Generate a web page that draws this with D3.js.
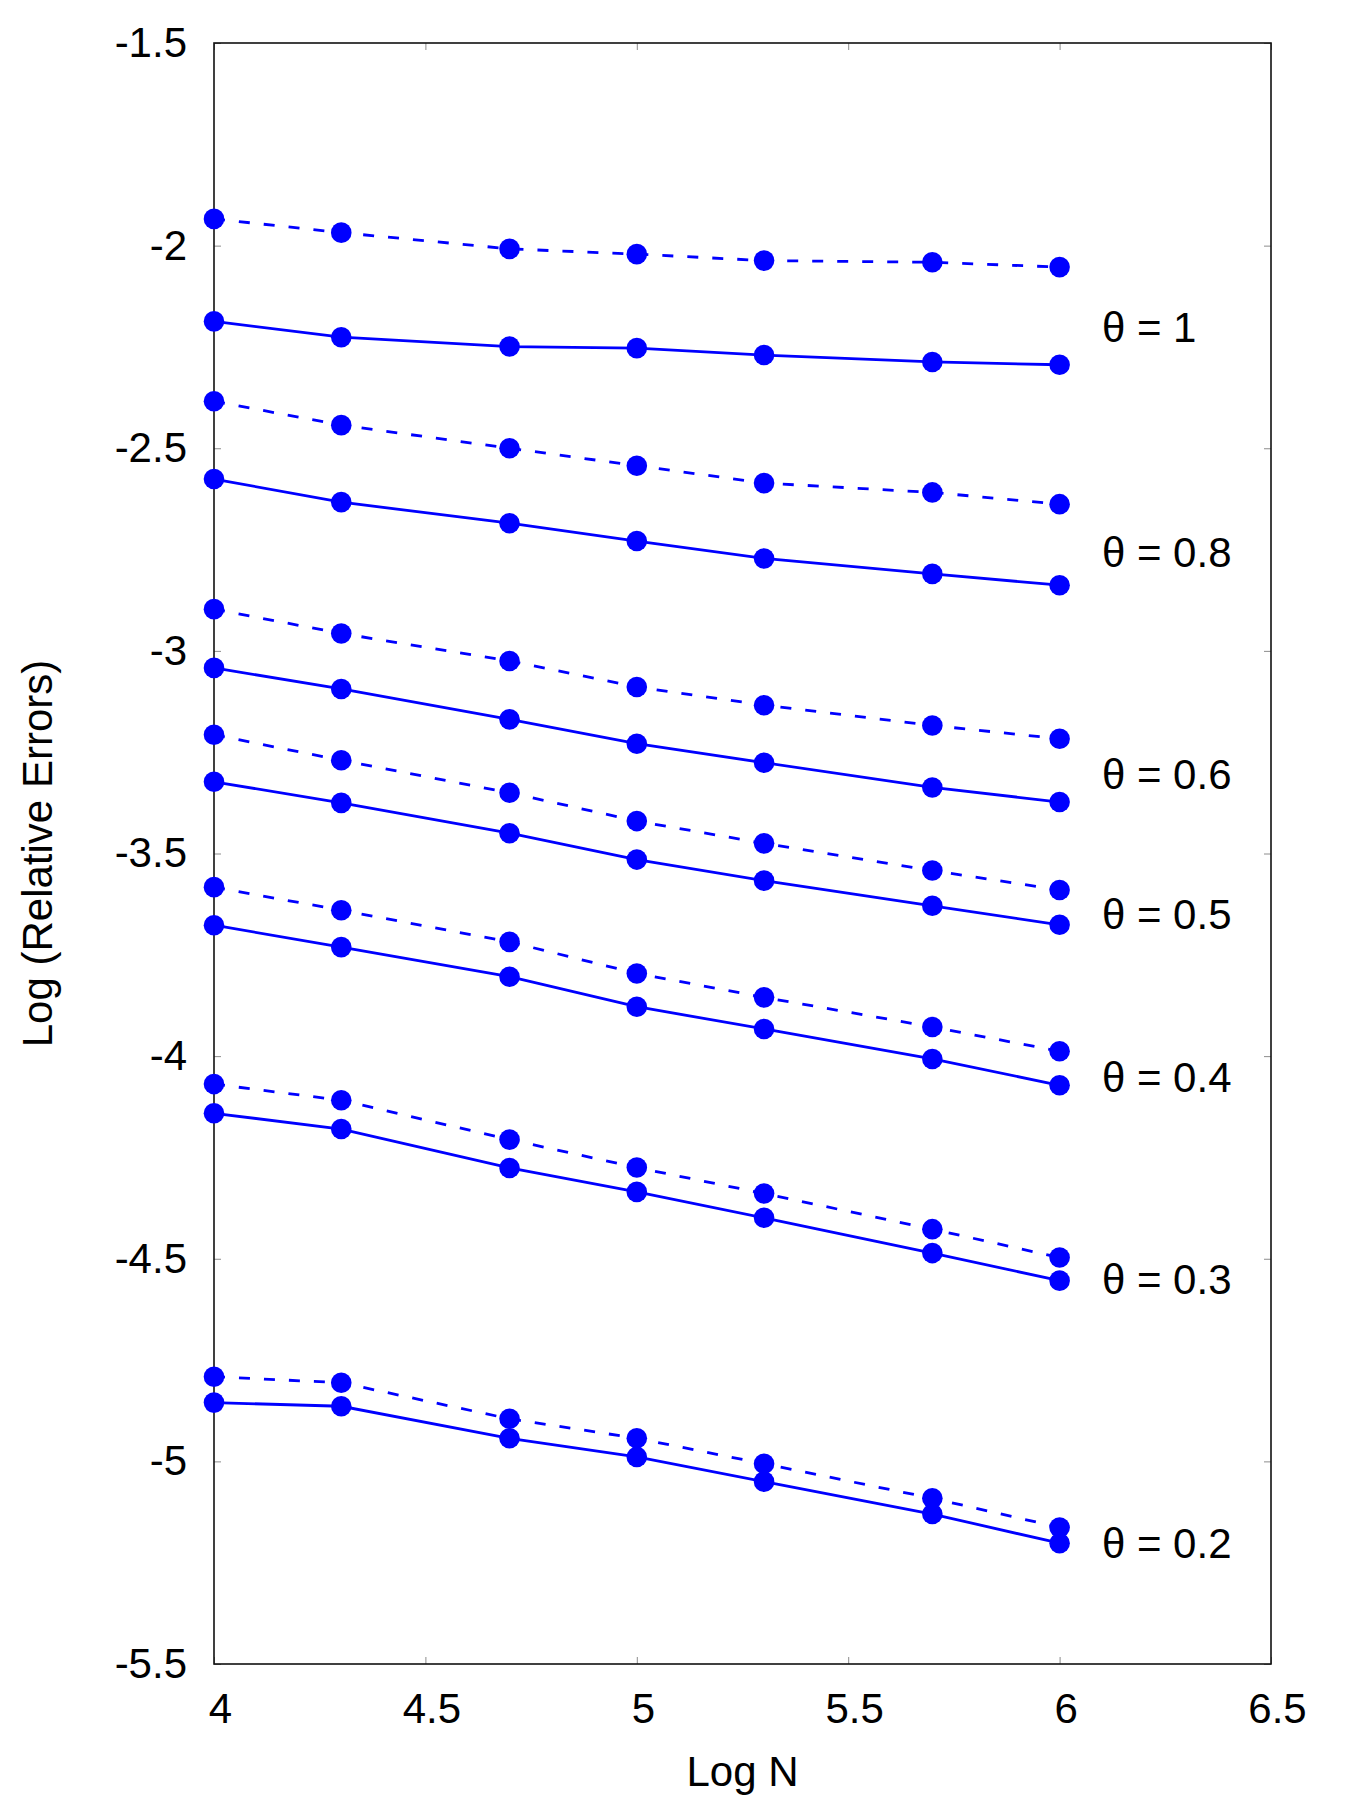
<!DOCTYPE html>
<html>
<head>
<meta charset="utf-8">
<script src="https://cdn.jsdelivr.net/npm/d3@7/dist/d3.min.js"></script>
<style>
  html, body { margin: 0; padding: 0; background: #fff; }
  svg { display: block; }
  text { font-family: "Liberation Sans", Arial, Helvetica, sans-serif; fill: #000; }
</style>
</head>
<body>
<svg id="chart" width="1350" height="1805"></svg>
<script>
// ---- data ----
const logN = [4, 4.301, 4.699, 5, 5.301, 5.699, 6];

const theta1Dashed   = [-1.934, -1.968, -2.008, -2.021, -2.037, -2.041, -2.053];
const theta1Solid    = [-2.187, -2.226, -2.249, -2.253, -2.270, -2.287, -2.294];
const theta08Dashed  = [-2.384, -2.443, -2.500, -2.543, -2.586, -2.609, -2.638];
const theta08Solid   = [-2.576, -2.633, -2.685, -2.729, -2.772, -2.810, -2.838];
const theta06Dashed  = [-2.897, -2.957, -3.025, -3.089, -3.134, -3.184, -3.217];
const theta06Solid   = [-3.042, -3.094, -3.169, -3.229, -3.276, -3.337, -3.373];
const theta05Dashed  = [-3.207, -3.270, -3.350, -3.420, -3.475, -3.542, -3.590];
const theta05Solid   = [-3.323, -3.375, -3.450, -3.515, -3.567, -3.629, -3.676];
const theta04Dashed  = [-3.583, -3.640, -3.718, -3.796, -3.855, -3.928, -3.988];
const theta04Solid   = [-3.677, -3.731, -3.804, -3.878, -3.933, -4.007, -4.072];
const theta03Dashed  = [-4.069, -4.109, -4.206, -4.275, -4.339, -4.427, -4.497];
const theta03Solid   = [-4.141, -4.180, -4.276, -4.335, -4.399, -4.486, -4.554];
const theta02Dashed  = [-4.791, -4.806, -4.895, -4.943, -5.006, -5.091, -5.163];
const theta02Solid   = [-4.855, -4.864, -4.943, -4.989, -5.050, -5.130, -5.202];

const labelTexts  = ["θ = 1", "θ = 0.8", "θ = 0.6", "θ = 0.5", "θ = 0.4", "θ = 0.3", "θ = 0.2"];
const labelLogN   = [6.1, 6.1, 6.1, 6.1, 6.1, 6.1, 6.1];
const labelValues = [-2.2, -2.755, -3.304, -3.65, -4.05, -4.55, -5.202];

const xTicks = [4, 4.5, 5, 5.5, 6, 6.5];
const yTicks = [-1.5, -2, -2.5, -3, -3.5, -4, -4.5, -5, -5.5];

const xTitle = "Log N";
const yTitle = "Log (Relative Errors)";

// ---- build series table ----
const dashedSeries = [theta1Dashed, theta08Dashed, theta06Dashed, theta05Dashed, theta04Dashed, theta03Dashed, theta02Dashed];
const solidSeries  = [theta1Solid, theta08Solid, theta06Solid, theta05Solid, theta04Solid, theta03Solid, theta02Solid];
const series = [];
dashedSeries.forEach(s => series.push({ dashed: true,  pts: s.map((v, i) => [logN[i], v]) }));
solidSeries.forEach(s  => series.push({ dashed: false, pts: s.map((v, i) => [logN[i], v]) }));

// ---- layout ----
const W = 1350, H = 1805;
const margin = { left: 214, top: 43, right: 79, bottom: 141 };
const iw = W - margin.left - margin.right;
const ih = H - margin.top - margin.bottom;
const BLUE = "#0000ff";
const FONT = 42;

const svg = d3.select("#chart");
const g = svg.append("g").attr("transform", `translate(${margin.left},${margin.top})`);

const x = d3.scaleLinear().domain([4, 6.5]).range([0, iw]);
const y = d3.scaleLinear().domain([-5.5, -1.5]).range([ih, 0]);

// axes (ticks inward, grey)
function styleAxis(sel) {
  sel.select(".domain").remove();
  sel.selectAll(".tick line").attr("stroke", "#8c8c8c").attr("stroke-width", 1);
  sel.selectAll(".tick text").attr("font-size", FONT).attr("fill", "#000")
     .style("font-family", '"Liberation Sans", Arial, sans-serif');
}
const fmt = d => String(d);

g.append("g").attr("transform", `translate(0,${ih})`)
  .call(d3.axisBottom(x).tickValues(xTicks).tickFormat(fmt).tickSizeInner(-7).tickSizeOuter(0).tickPadding(29))
  .call(styleAxis)
  .call(s => s.selectAll(".tick text").attr("dx", 6));

g.append("g")
  .call(d3.axisLeft(y).tickValues(yTicks).tickFormat(fmt).tickSizeInner(-7).tickSizeOuter(0).tickPadding(27))
  .call(styleAxis);

g.append("g")
  .call(d3.axisTop(x).tickValues(xTicks).tickFormat("").tickSizeInner(-7).tickSizeOuter(0))
  .call(styleAxis);

g.append("g").attr("transform", `translate(${iw},0)`)
  .call(d3.axisRight(y).tickValues(yTicks).tickFormat("").tickSizeInner(-7).tickSizeOuter(0))
  .call(styleAxis);

// frame
g.append("rect").attr("x", 0).attr("y", 0).attr("width", iw).attr("height", ih)
  .attr("fill", "none").attr("stroke", "#111").attr("stroke-width", 1.6);

// lines
const line = d3.line().x(d => x(d[0])).y(d => y(d[1]));
g.selectAll("path.series").data(series).join("path")
  .attr("class", "series")
  .attr("d", d => line(d.pts))
  .attr("fill", "none")
  .attr("stroke", BLUE)
  .attr("stroke-width", 2.8)
  .attr("stroke-dasharray", d => d.dashed ? "11,14" : null);

// markers
g.selectAll("g.marks").data(series).join("g").attr("class", "marks")
  .selectAll("circle").data(d => d.pts).join("circle")
  .attr("cx", d => x(d[0])).attr("cy", d => y(d[1])).attr("r", 10.3)
  .attr("fill", BLUE);

// theta labels
g.selectAll("text.lab").data(labelTexts).join("text")
  .attr("class", "lab")
  .attr("x", (d, i) => x(labelLogN[i]))
  .attr("y", (d, i) => y(labelValues[i]))
  .attr("dy", "0.36em")
  .attr("font-size", FONT)
  .text(d => d);

// axis titles
svg.append("text")
  .attr("x", margin.left + iw / 2).attr("y", 1786)
  .attr("text-anchor", "middle").attr("font-size", FONT)
  .text(xTitle);

svg.append("text")
  .attr("transform", `translate(52,${margin.top + ih / 2}) rotate(-90)`)
  .attr("text-anchor", "middle").attr("font-size", FONT)
  .text(yTitle);
</script>
</body>
</html>
